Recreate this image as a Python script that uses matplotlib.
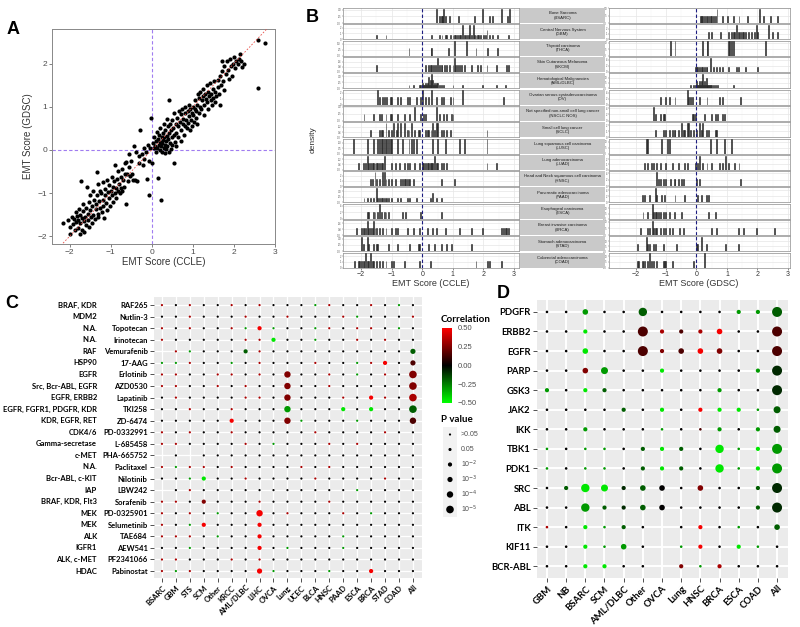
import numpy as np
import matplotlib.pyplot as plt
from matplotlib.colors import LinearSegmentedColormap, Normalize
from matplotlib.cm import ScalarMappable
from matplotlib.ticker import MaxNLocator, MultipleLocator
from matplotlib.transforms import blended_transform_factory

plt.rcParams['font.family'] = ['Liberation Sans', 'DejaVu Sans']

# ---------------- panel A : EMT score CCLE vs GDSC ----------------
A_X = [-2.15, -2.05, -2.0, -1.98, -1.95, -1.92, -1.9, -1.88, -1.85, -1.85, -1.82, -1.8, -1.8, -1.78, -1.76,
       -1.75, -1.74, -1.72, -1.7, -1.7, -1.68, -1.67, -1.65, -1.64, -1.62, -1.6, -1.6, -1.58, -1.56, -1.55,
       -1.54, -1.52, -1.5, -1.5, -1.48, -1.46, -1.45, -1.43, -1.42, -1.4, -1.38, -1.37, -1.35, -1.34, -1.33,
       -1.32, -1.3, -1.3, -1.28, -1.27, -1.25, -1.24, -1.22, -1.2, -1.2, -1.18, -1.16, -1.15, -1.13, -1.12,
       -1.1, -1.08, -1.07, -1.05, -1.03, -1.02, -1.0, -0.98, -0.97, -0.95, -0.94, -0.92, -0.9, -0.9, -0.88,
       -0.86, -0.85, -0.83, -0.82, -0.8, -0.78, -0.76, -0.75, -0.73, -0.72, -0.7, -0.68, -0.66, -0.65, -0.63,
       -0.62, -0.6, -0.58, -0.56, -0.55, -0.52, -0.5, -0.48, -0.45, -0.43, -0.4, -0.38, -0.35, -0.32, -0.3,
       -0.28, -0.25, -0.22, -0.2, -0.18, -0.15, -0.12, -0.1, -0.08, -0.06, -0.04, -0.02, 0.0, 0.02,
       0.05, 0.06, 0.08, 0.1, 0.1, 0.12, 0.13, 0.15, 0.15, 0.17, 0.18, 0.2, 0.2, 0.21, 0.22, 0.23, 0.24, 0.25,
       0.26, 0.27, 0.28, 0.29, 0.3, 0.3, 0.31, 0.32, 0.33, 0.34, 0.35, 0.36, 0.37, 0.38, 0.39, 0.4, 0.41, 0.42,
       0.43, 0.44, 0.45, 0.46, 0.47, 0.48, 0.5, 0.5, 0.52, 0.53, 0.55, 0.55, 0.56, 0.58, 0.6, 0.6,
       0.62, 0.63, 0.65, 0.66, 0.68, 0.7, 0.7, 0.72, 0.74, 0.75, 0.77, 0.78, 0.8, 0.8, 0.82, 0.84, 0.85, 0.87,
       0.88, 0.9, 0.9, 0.92, 0.94, 0.95, 0.97, 0.98, 1.0, 1.0, 1.02, 1.04, 1.05, 1.07, 1.08, 1.1, 1.1, 1.12,
       1.14, 1.15, 1.17, 1.18, 1.2, 1.22, 1.24, 1.25, 1.27, 1.28, 1.3, 1.32, 1.34, 1.35, 1.37, 1.38, 1.4, 1.42,
       1.44, 1.45, 1.47, 1.48, 1.5, 1.52, 1.54, 1.55, 1.57, 1.6, 1.62, 1.64, 1.65, 1.67, 1.68, 1.7, 1.72, 1.74,
       1.75, 1.77, 1.8, 1.82, 1.85, 1.88, 1.9, 1.92, 1.95, 1.98, 2.0, 2.02, 2.05, 2.1, 2.13, 2.15, 2.18, 2.2,
       2.25, 2.58, 2.58, 2.75]
A_Y = [-1.7, -1.63, -1.95, -1.78, -1.55, -1.72, -1.6, -1.85, -1.45, -1.67, -1.52, -1.8, -1.62, -1.38, -1.95,
       -1.7, -1.5, -0.72, -1.58, -1.85, -1.25, -1.42, -1.65, -1.9, -1.55, -1.35, -1.75, -0.85, -1.48, -1.62,
       -1.2, -1.78, -1.4, -1.05, -1.55, -1.7, -1.3, -1.5, -0.95, -1.15, -1.6, -1.38, -1.25, -0.52, -1.05,
       -1.48, -1.55, -0.8, -1.18, -1.35, -0.95, -1.0, -1.45, -1.15, -0.75, -1.3, -1.58, -0.9, -1.05, -1.22,
       -0.7, -1.4, -0.98, -1.12, -0.82, -1.3, -0.95, -1.05, -0.62, -1.2, -0.85, -0.72, -1.0, -0.35, -0.88,
       -1.12, -0.68, -0.95, -0.5, -0.78, -1.0, -0.62, -0.88, -0.45, -0.95, -0.7, -0.85, -0.3, -0.55, -0.28,
       -1.25, -0.55, -0.72, -0.1, -0.4, -0.6, -0.25, -0.55, -0.7, 0.08, -0.7, -0.05, -0.72, -0.15, -0.3,
       0.45, -0.1, -0.35, 0.05, -0.2, -0.05, -0.68, 0.12, -1.05, -0.25, 0.05, 0.75, -0.3, 0.15,
       0.05, 0.3, 0.1, 0.2, -0.05, 0.42, 0.05, -0.65, 0.25, 0.12, 0.35, 0.0, 0.18, 0.5, 0.08, -1.17, 0.3, 0.15,
       -0.05, 0.4, 0.22, 0.05, 0.6, 0.3, 0.12, -0.08, 0.45, 0.2, 0.02, 0.72, 0.32, 0.1, 0.55, 0.25, -0.05, 1.15,
       0.38, 0.15, 0.6, 0.02, 0.45, 0.3, 0.12, 0.7, 0.5, 0.35, -0.3, 0.85, 0.18, 0.6, 0.4, 0.08,
       0.75, 0.55, 0.3, 0.9, 0.65, 0.45, 0.82, 0.2, 0.95, 0.6, 0.72, 0.35, 0.85, 0.55, 1.0, 0.7, 0.5, 0.9,
       0.62, 0.78, 1.05, 0.45, 0.95, 0.7, 0.85, 0.55, 1.0, 0.8, 0.65, 0.95, 1.15, 0.75, 0.9, 1.05, 0.6, 1.3,
       0.85, 1.2, 1.0, 1.35, 0.95, 1.15, 1.42, 1.25, 1.05, 0.8, 1.3, 1.18, 1.5, 1.1, 1.35, 0.95, 1.25, 1.55,
       1.15, 1.3, 1.05, 1.42, 1.2, 1.6, 1.35, 1.1, 1.25, 1.45, 1.62, 1.3, 1.05, 1.7, 1.5, 2.05, 1.82, 1.6,
       1.38, 1.95, 1.75, 2.05, 1.85, 1.65, 2.1, 1.95, 1.7, 2.0, 2.15, 1.9, 2.05, 2.0, 2.1, 2.22, 2.05, 1.92,
       2.0, 1.43, 2.55, 2.47]

# ---------------- panel B : EMT score distributions per cancer type ----------------
B_TYPES = ['Bone Sarcoma\n(BSARC)', 'Central Nervous System\n(GBM)', 'Thyroid carcinoma\n(THCA)',
           'Skin Cutaneous Melanoma\n(SKCM)', 'Hematological Malignancies\n(AML/DLBC)',
           'Ovarian serous cystadenocarcinoma\n(OV)', 'Not specified non-small cell lung cancer\n(NSCLC NOS)',
           'Small cell lung cancer\n(SCLC)', 'Lung squamous cell carcinoma\n(LUSC)', 'Lung adenocarcinoma\n(LUAD)',
           'Head and Neck squamous cell carcinoma\n(HNSC)', 'Pancreatic adenocarcinoma\n(PAAD)',
           'Esophageal carcinoma\n(ESCA)', 'Breast invasive carcinoma\n(BRCA)', 'Stomach adenocarcinoma\n(STAD)',
           'Colorectal adenocarcinoma\n(COAD)']

B_CCLE = [
    [0.45, 0.45, 0.55, 0.6, 0.63, 0.66, 0.71, 0.71, 0.76, 0.87, 1.17, 1.7, 1.97, 1.97, 2.2, 2.29, 2.6, 2.6, 2.77, 2.84, 2.84],
    [-1.5, -1.2, 0.3, 0.55, 0.65, 0.75, 0.8, 0.9, 1.0, 1.05, 1.1, 1.15, 1.2, 1.25, 1.3, 1.3, 1.3, 1.35, 1.4, 1.45, 1.5,
     1.55, 1.55, 1.55, 1.6, 1.65, 1.65, 1.65, 1.7, 1.75, 1.8, 1.85, 1.9, 2.0, 2.05, 2.1, 2.1, 2.2, 2.3, 2.45, 2.8],
    [-0.45, 0.28, 0.32, 0.85, 1.05, 1.05, 1.45, 1.45, 1.75, 2.15, 2.45],
    [-1.5, 0.1, 0.18, 0.25, 0.3, 0.38, 0.42, 0.5, 0.5, 0.55, 0.6, 0.65, 0.72, 0.8, 0.88, 1.0, 1.05, 1.05, 1.1, 1.15,
     1.2, 1.28, 1.35, 1.6, 1.8, 1.9, 2.1, 2.4, 2.75, 2.8],
    [-0.45, -0.3, -0.1, -0.05, 0.0, 0.02, 0.05, 0.08, 0.1, 0.1, 0.12, 0.15, 0.15, 0.18, 0.2, 0.2, 0.2, 0.22, 0.25, 0.25,
     0.25, 0.28, 0.3, 0.3, 0.3, 0.3, 0.32, 0.35, 0.35, 0.35, 0.38, 0.4, 0.4, 0.42, 0.45, 0.45, 0.48, 0.5, 0.55, 0.6,
     0.7, 1.0, 1.3, 1.95, 2.4, 2.7],
    [-1.45, -1.45, -1.4, -1.3, -1.25, -1.15, -1.05, -1.0, -0.8, -0.7, -0.5, -0.4, -0.2, -0.05, 0.0, 0.0, 0.1, 0.2, 0.3,
     0.3, 0.45, 0.6, 0.7, 0.9, 1.0, 1.3, 1.3, 2.65],
    [-1.9, -1.6, -1.4, -1.35, -1.2, -1.05, -1.0, -0.8, -0.6, -0.4, -0.25, -0.25, -0.05, 0.05, 0.1, 0.45, 0.45, 0.55,
     0.7, 0.8, 0.95, 1.0],
    [-1.7, -1.4, -1.35, -1.3, -1.2, -1.2, -1.1, -1.0, -0.95, -0.95, -0.85, -0.8, -0.8, -0.7, -0.7, -0.6, -0.6, -0.5,
     -0.45, -0.35, -0.35, -0.25, -0.15, -0.1, 0.1, 0.15, 0.2, 0.28, 0.35, 0.35, 0.4, 0.45, 0.45, 0.5, 0.5, 0.6, 0.7,
     0.8, 0.9, 2.1],
    [-2.25, -1.8, -1.6, -1.45, -1.4, -1.35, -1.3, -1.25, -1.2, -1.15, -1.1, -1.05, -1.0, -0.8, -0.65, -0.45, -0.35,
     -0.3, -0.2, 0.35, 0.5, 0.75, 1.2, 1.35, 2.1],
    [-2.1, -1.95, -1.85, -1.8, -1.8, -1.75, -1.7, -1.65, -1.6, -1.55, -1.5, -1.45, -1.4, -1.35, -1.3, -1.25, -1.25,
     -1.0, -0.9, -0.75, -0.6, -0.5, -0.4, -0.25, -0.1, 0.0, 0.05, 0.1, 0.15, 0.2, 0.25, 0.3, 0.35, 0.4, 0.4, 0.45,
     0.5, 0.6, 0.7, 0.8, 2.1, 2.4],
    [-1.7, -1.65, -1.55, -1.55, -1.5, -1.4, -1.3, -1.3, -1.25, -1.25, -1.2, -1.1, -1.0, -0.9, -0.7, -0.65, -0.6, -0.55,
     -0.5, -0.45, -0.4, -0.3, 0.6, 1.05],
    [-1.9, -1.8, -1.7, -1.6, -1.5, -1.5, -1.5, -1.45, -1.4, -1.35, -1.3, -1.25, -1.2, -1.15, -1.1, -1.0, -0.8, -0.7,
     -0.5, -0.4, -0.2, 0.25, 0.35, 0.35, 0.45, 0.6],
    [-1.8, -1.75, -1.6, -1.55, -1.45, -1.4, -1.4, -1.35, -1.25, -1.2, -1.1, -0.65, -0.55, -0.05, 0.6],
    [-2.15, -2.0, -1.95, -1.9, -1.85, -1.8, -1.8, -1.75, -1.7, -1.65, -1.6, -1.6, -1.55, -1.5, -1.4, -1.3, -1.2, -1.0,
     -0.9, -0.8, -0.5, -0.3, -0.1, 0.15, 0.35, 0.45, 0.75, 1.2, 1.6, 1.95, 2.6, 2.65, 2.7, 2.75, 2.8],
    [-2.0, -2.0, -1.95, -1.8, -1.8, -1.75, -1.6, -1.5, -1.45, -1.1, -0.8, -0.4, -0.15, -0.1, 0.2, 0.4, 0.6, 0.8, 0.95,
     1.6],
    [-2.2, -2.1, -2.05, -2.0, -1.95, -1.9, -1.85, -1.85, -1.8, -1.75, -1.7, -1.7, -1.65, -1.6, -1.5, -1.4, -1.3, -1.2,
     -1.0, -0.95, -0.6, -0.1, 0.25, 1.75, 2.15, 2.2, 2.6],
]

B_GDSC = [
    [0.12, 0.16, 0.2, 0.25, 0.3, 0.35, 0.4, 0.45, 0.5, 0.55, 0.6, 0.68, 0.68, 0.85, 1.0, 1.2, 1.4, 1.65, 2.05, 2.05,
     2.2, 2.45, 2.65],
    [0.4, 0.5, 0.8, 1.05, 1.15, 1.2, 1.25, 1.3, 1.3, 1.35, 1.4, 1.45, 1.5, 1.55, 1.6, 1.7, 1.8, 1.9, 1.95, 1.95, 2.0,
     2.35, 2.35, 2.5, 2.65],
    [-0.85, -0.7, 0.2, 0.35, 0.38, 1.05, 1.1, 1.15, 1.2, 2.25],
    [-0.05, 0.0, 0.05, 0.1, 0.15, 0.2, 0.25, 0.3, 0.35, 0.45, 0.45, 0.45, 0.55, 0.65, 0.75, 0.85, 1.05, 1.3, 1.35, 1.6,
     2.0],
    [-0.2, -0.1, -0.05, 0.0, 0.02, 0.05, 0.08, 0.1, 0.1, 0.12, 0.15, 0.15, 0.18, 0.2, 0.2, 0.2, 0.22, 0.25, 0.25, 0.28,
     0.3, 0.3, 0.32, 0.35, 0.38, 0.4, 0.42, 0.45, 0.5, 0.55, 0.6, 0.7, 1.2],
    [-1.2, -1.0, -0.9, -0.7, -0.3, -0.3, -0.25, -0.2, -0.15, 0.1, 0.35, 0.75, 0.85, 1.45],
    [-1.4, -1.4, -1.35, -1.2, -1.1, -1.05, -0.15, -0.1, -0.05, 0.25, 0.5, 0.6, 0.7, 0.85, 0.9],
    [-1.35, -1.1, -1.0, -0.9, -0.8, -0.75, -0.7, -0.6, -0.5, -0.5, -0.45, -0.4, -0.3, -0.3, -0.25, -0.25, -0.2, -0.1,
     0.0, 0.1, 0.1, 0.15, 0.2, 0.2, 0.3, 0.4, 0.6, 0.65],
    [-1.65, -1.6, -1.15, -0.95, -0.9, 0.45, 0.65, 0.9, 1.15],
    [-1.7, -1.6, -1.5, -1.4, -1.3, -1.2, -1.0, -0.8, -0.6, -0.4, -0.3, -0.05, 0.05, 0.1, 0.1, 0.2, 0.35, 0.5, 0.75,
     0.85, 0.95, 0.95, 1.05, 1.25, 1.4],
    [-1.3, -1.3, -1.25, -1.2, -1.1, -1.0, -0.85, -0.75, -0.7, -0.6, -0.5, -0.45, 0.0, 0.1, 1.45],
    [-1.8, -1.7, -1.55, -1.35, -1.35, -1.3, -1.15, -1.05, -0.7, -0.4, 0.05, 0.15, 0.3, 0.4],
    [-1.75, -1.6, -1.45, -1.45, -1.4, -1.35, -1.3, -1.25, -1.2, -1.1, -1.0, -0.9, -0.75, -0.5, 0.4, 0.6],
    [-1.85, -1.6, -1.55, -1.45, -1.45, -1.4, -1.35, -1.3, -1.2, -1.1, -1.0, -0.9, -0.8, -0.55, -0.45, 0.5, 0.65, 1.35,
     1.55, 1.95, 2.55],
    [-1.95, -1.65, -1.65, -1.6, -1.55, -1.4, -1.35, -1.1, -0.65, 0.0, 0.05, 0.15, 0.15, 0.3, 0.95, 1.35],
    [-1.95, -1.9, -1.8, -1.75, -1.7, -1.6, -1.55, -1.55, -1.5, -1.4, -1.3, -1.1, -1.05, -1.0, -0.8, -0.1, 0.25, 0.25],
]

# ---------------- panel C : drug response vs EMT (CCLE) ----------------
C_TISSUES = ['BSARC', 'GBM', 'STS', 'SCM', 'Other', 'KRCC', 'AML/DLBC', 'LIHC', 'OVCA', 'Lung', 'UCEC', 'BLCA',
             'HNSC', 'PAAD', 'ESCA', 'BRCA', 'STAD', 'COAD', 'All']
C_DRUGS = ['RAF265', 'Nutlin-3', 'Topotecan', 'Irinotecan', 'Vemurafenib', '17-AAG', 'Erlotinib', 'AZD0530',
           'Lapatinib', 'TKI258', 'ZD-6474', 'PD-0332991', 'L-685458', 'PHA-665752', 'Paclitaxel', 'Nilotinib',
           'LBW242', 'Sorafenib', 'PD-0325901', 'Selumetinib', 'TAE684', 'AEW541', 'PF2341066', 'Pabinostat']
C_TARGETS = ['BRAF, KDR', 'MDM2', 'N.A.', 'N.A.', 'RAF', 'HSP90', 'EGFR', 'Src, Bcr-ABL, EGFR', 'EGFR, ERBB2',
             'EGFR, FGFR1, PDGFR, KDR', 'KDR, EGFR, RET', 'CDK4/6', 'Gamma-secretase', 'c-MET', 'N.A.',
             'Bcr-ABL, c-KIT', 'IAP', 'BRAF, KDR, Flt3', 'MEK', 'MEK', 'ALK', 'IGFR1', 'ALK, c-MET', 'HDAC']
# correlation class per cell ('.' = not tested), one string per drug, one character per tissue
C_CORR = ['rkrkkrkrkkkgrkkrkgk', 'kkrkkkrkkrkkkrgkkkr', 'rkrkkrgRgkkgrkrrkgk', 'rkkkkkrrGkkgkkrkrkk',
          '.rgkkkhrkkkkkkkkkkh', 'ggrkkgkrkkkrkkgrRkm', 'rrkkrrkrkdkkrkgkrkd', 'rrkkrkrkkdkkrkkkkkd',
          'krkkkkrrkdkkkrkRrkr', 'kkrkkrkkkgkkkGkGkkh', 'kkkkkRkkkdgkkkgkkkm', 'rkrkkrkkkkkrkkkkrkk',
          'rrkkkkrkgkkkrkrkkkk', '.k.kkkkkkkkkkkkkkkk', 'rgrrkrkkkkrkrkkkkkk', 'kkgGkkrkkkkrkkkkrkk',
          '.krkkkkkkkkkkkgkkkk', 'rrkdkkkrkkkkrkkkkkk', 'rkrkgkkRkrkkkrkgkkk', 'rkgRkkkRkkkkkkkkkkk',
          'rrrkgkkRkkkkkgkkkkk', 'kkgkkkkRkgkkkgkkkkk', 'rrkkkrkrkkkkkkkkkkk', 'rgrkkkkRgkkkgkkRkkk']
# p-value class per cell: 0 >0.05, 1 0.05, 2 1e-2, 3 1e-3, 4 1e-4, 5 1e-5
C_PVAL = ['0000000000000000000', '0000000000000000000', '0000000200000000000', '0000000020000000000',
          '0000002000000000003', '0000000000000000203', '0000000004000000005', '0000000004000000005',
          '0000000004000002005', '0000000004000202005', '0000020004000000004', '0000000000000000000',
          '0000000000000000000', '0000000000000000000', '0000000000000000000', '0002000000000000000',
          '0000000000000000000', '0002000000000000000', '0000000400000000000', '0002000200000000000',
          '0000000200000000000', '0000000200000000000', '0000000000000000000', '0000000300000002000']

# ---------------- panel D : drug targets (GDSC) ----------------
D_TISSUES = ['GBM', 'NB', 'BSARC', 'SCM', 'AML/DLBC', 'Other', 'OVCA', 'Lung', 'HNSC', 'BRCA', 'ESCA', 'COAD', 'All']
D_TARGETS = ['PDGFR', 'ERBB2', 'EGFR', 'PARP', 'GSK3', 'JAK2', 'IKK', 'TBK1', 'PDK1', 'SRC', 'ABL', 'ITK', 'KIF11',
             'BCR-ABL']
D_CORR = ['kkgkkhkkkkggh', 'kkGkkmrmrRkkm', 'kkGkkmdmRdkkm', 'kkdgkkGkkkkgx', 'gkGhkkkkkgkkx', 'kkkkhkGkRGGgh',
          'kkgkkkgkmgkgh', 'gkggkhGhkGgGg', 'gkggkhGhkGgGg', 'khGGxhkkdkkhx', 'kkghxhkkkkkhx', 'rkGghk.kRkgkh',
          'kkGggk.gRkGgk', 'kkGGkk.dgrkkk']
D_PVAL = ['0020040000115', '0010051112005', '0020051222005', '0023001000015', '1011000001005', '0000101011103',
          '0010000001013', '0000011104015', '0000011104015', '0143122020015', '0041122000015', '0010100010002',
          '0010200010100', '0011000101000']

CORR_CODE = {'G': -0.45, 'g': -0.3, 'h': -0.18, 'x': -0.08, 'k': 0.0, 'm': 0.15, 'd': 0.25, 'r': 0.33, 'R': 0.48}
P_LABELS = ['>0.05', '0.05', '10$^{-2}$', '10$^{-3}$', '10$^{-4}$', '10$^{-5}$']
C_DIAM = [2.2, 3.1, 4.2, 5.2, 6.4, 7.6]      # dot diameter in px per p-value class
D_DIAM = [2.6, 4.2, 5.6, 7.0, 8.4, 10.0]

W, H = 800, 627
fig = plt.figure(figsize=(8, 6.27), dpi=100)


def box(x0, y0, x1, y1):
    return [x0 / W, 1 - y1 / H, (x1 - x0) / W, (y1 - y0) / H]


def size_pt(d):
    return (d * 0.72) ** 2


CMAP = LinearSegmentedColormap.from_list('corr', ['#00ff00', '#000000', '#ff0000'])
NORM = Normalize(-0.5, 0.5)
GRAYTXT = '#4d4d4d'
CDFONT = ['Lato', 'DejaVu Sans']

for letter, x, y in [('A', 13, 30), ('B', 312, 17), ('C', 12, 303), ('D', 503, 294)]:
    fig.text(x / W, 1 - y / H, letter, fontsize=13, fontweight='bold', ha='center', va='center')

# ---- A ----
axA = fig.add_axes(box(52, 29, 275, 244))
axA.scatter(A_X, A_Y, s=9, c='black', linewidths=0, zorder=3)
axA.plot([-3, 3], [-3, 3], color='#e8504a', ls=(0, (2, 2)), lw=0.6, zorder=4)
axA.axvline(0, color='#a07cf0', ls=(0, (3, 2)), lw=0.8, zorder=2)
axA.axhline(0, color='#a07cf0', ls=(0, (3, 2)), lw=0.8, zorder=2)
axA.set_xlim(-2.43, 2.98)
axA.set_ylim(-2.18, 2.8)
axA.set_xticks(range(-2, 4))
axA.set_yticks(range(-2, 3))
axA.tick_params(labelsize=6, colors=GRAYTXT, length=2, width=0.5, pad=1.5)
for sp in axA.spines.values():
    sp.set_color('#888888')
    sp.set_linewidth(0.7)
axA.set_xlabel('EMT Score (CCLE)', fontsize=7, color='#333333', labelpad=1)
axA.set_ylabel('EMT Score (GDSC)', fontsize=7, color='#333333', labelpad=3)

# ---- B ----
bins = np.arange(-3.0, 3.3, 0.03)
pitch = (269 - 8) / 16
for i, name in enumerate(B_TYPES):
    y0 = 8 + i * pitch
    y1 = y0 + pitch - 1.3
    for x0, x1, vals, xlim in [(343, 519, B_CCLE[i], (-2.59, 3.16)), (609, 790, B_GDSC[i], (-2.87, 3.07))]:
        ax = fig.add_axes(box(x0, y0, x1, y1))
        ax.hist(vals, bins=bins, density=True, color='#262626', edgecolor='#262626', linewidth=0.4, zorder=3)
        ax.set_xlim(*xlim)
        top = ax.get_ylim()[1]
        ax.set_ylim(0, top)
        ax.axvline(0, color='#1c1c80', ls=(0, (3, 2)), lw=0.8, zorder=4)
        ax.xaxis.set_major_locator(MultipleLocator(1))
        ax.xaxis.set_minor_locator(MultipleLocator(0.5))
        ax.yaxis.set_major_locator(MaxNLocator(3))
        ax.grid(True, which='major', color='#e6e6e6', lw=0.5, zorder=0)
        ax.grid(True, which='minor', axis='x', color='#f2f2f2', lw=0.3, zorder=0)
        ax.set_axisbelow(True)
        ax.tick_params(axis='y', labelsize=1.8, length=1, width=0.3, pad=0.4, colors='#555555')
        ax.tick_params(axis='x', which='both', length=0)
        ax.tick_params(axis='x', labelsize=5, colors='#333333', pad=1)
        if i < 15:
            ax.set_xticklabels([])
        else:
            ax.tick_params(axis='x', length=1.5, width=0.4)
        for sp in ax.spines.values():
            sp.set_color('#8c8c8c')
            sp.set_linewidth(0.5)
    sax = fig.add_axes(box(520, y0, 605, y1), facecolor='#c9c9c9')
    sax.set_xticks([])
    sax.set_yticks([])
    for sp in sax.spines.values():
        sp.set_visible(False)
    sax.text(0.5, 0.5, name, fontsize=3.1, ha='center', va='center', color='#1a1a1a', linespacing=1.1)

fig.text(313 / W, 1 - 140 / H, 'density', rotation=90, fontsize=6, ha='center', va='center', color='#333333')
fig.text(431 / W, 1 - 284 / H, 'EMT Score (CCLE)', fontsize=6.5, ha='center', va='center', color='#333333')
fig.text(699 / W, 1 - 284 / H, 'EMT Score (GDSC)', fontsize=6.5, ha='center', va='center', color='#333333')


# ---- bubble grids (C and D) ----
def bubble_grid(ax, corr_rows, p_rows, diam, xlabels, ylabels, fs, grid_lw):
    xs, ys, cs, ss = [], [], [], []
    for r, (crow, prow) in enumerate(zip(corr_rows, p_rows)):
        for c, (cc, pp) in enumerate(zip(crow, prow)):
            if cc == '.':
                continue
            xs.append(c)
            ys.append(r)
            cs.append(CORR_CODE[cc])
            ss.append(size_pt(diam[int(pp)]))
    ax.scatter(xs, ys, s=ss, c=cs, cmap=CMAP, norm=NORM, linewidths=0, zorder=3)
    ax.set_xticks(range(len(xlabels)))
    ax.set_xticklabels(xlabels, rotation=45, ha='right', va='top', rotation_mode='anchor',
                       fontsize=fs, fontweight='bold', family=CDFONT)
    ax.set_yticks(range(len(ylabels)))
    ax.set_yticklabels(ylabels, fontsize=fs, fontweight='bold', family=CDFONT)
    ax.grid(True, color='white', lw=grid_lw, zorder=0)
    ax.set_axisbelow(True)
    ax.tick_params(length=3, width=0.6, color='#333333', pad=1.5)
    for sp in ax.spines.values():
        sp.set_visible(False)


axC = fig.add_axes(box(154, 297, 422, 578), facecolor='#ebebeb')
bubble_grid(axC, C_CORR, C_PVAL, C_DIAM, C_TISSUES, C_DRUGS, 5.5, 0.9)
axC.set_xlim(-0.57, 18.65)
axC.set_ylim(23.6, -0.7)
trC = blended_transform_factory(fig.transFigure, axC.transData)
for r, t in enumerate(C_TARGETS):
    axC.text(97 / W, r, t, transform=trC, ha='right', va='center', fontsize=5.5, fontweight='bold',
             family=CDFONT, clip_on=False)

# colour legend
fig.text(441 / W, 1 - 319 / H, 'Correlation', fontsize=7, fontweight='bold', family=CDFONT, va='center')
cax = fig.add_axes(box(442, 328, 452, 403))
cb = fig.colorbar(ScalarMappable(norm=NORM, cmap=CMAP), cax=cax, ticks=[-0.5, -0.25, 0, 0.25, 0.5])
cb.ax.set_yticklabels(['\u22120.50', '\u22120.25', '0.00', '0.25', '0.50'])
cb.outline.set_visible(False)
cb.ax.tick_params(labelsize=5.5, colors=GRAYTXT, length=2, width=0.5, pad=2)
cb.ax.tick_params(axis='y', color='white')

# size legend
fig.text(441 / W, 1 - 420 / H, 'P value', fontsize=7, fontweight='bold', family=CDFONT, va='center')
kax = fig.add_axes(box(443, 427, 457, 517), facecolor='#f2f2f2')
kax.set_xlim(0, 1)
kax.set_ylim(5.5, -0.5)
kax.scatter([0.5] * 6, range(6), s=[size_pt(d) for d in C_DIAM], c='black', linewidths=0)
kax.set_xticks([])
kax.set_yticks([])
for sp in kax.spines.values():
    sp.set_visible(False)
trK = blended_transform_factory(fig.transFigure, kax.transData)
for k, lab in enumerate(P_LABELS):
    kax.text(461 / W, k, lab, transform=trK, fontsize=5, color=GRAYTXT, va='center', ha='left')

axD = fig.add_axes(box(537, 300, 788, 578), facecolor='#ebebeb')
bubble_grid(axD, D_CORR, D_PVAL, D_DIAM, D_TISSUES, D_TARGETS, 6.8, 1.4)
axD.set_xlim(-0.52, 12.57)
axD.set_ylim(13.6, -0.61)

fig.savefig('out.png', dpi=100)
